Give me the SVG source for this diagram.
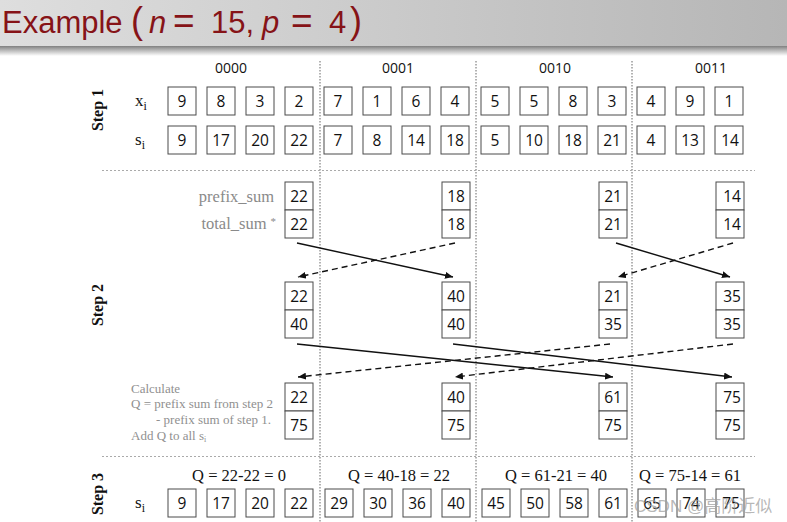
<svg xmlns="http://www.w3.org/2000/svg" width="787" height="522" viewBox="0 0 787 522">
<defs>
<linearGradient id="bar" x1="0" y1="0" x2="1" y2="0">
<stop offset="0" stop-color="#dedede"/>
<stop offset="1" stop-color="#b6b6b6"/>
</linearGradient>
<linearGradient id="shadow" x1="0" y1="0" x2="0" y2="1">
<stop offset="0" stop-color="#808080"/>
<stop offset="0.3" stop-color="#a8a8a8"/>
<stop offset="1" stop-color="#ffffff"/>
</linearGradient>
<marker id="ah" viewBox="0 0 8 7" refX="8" refY="3.5" markerWidth="8" markerHeight="7" markerUnits="userSpaceOnUse" orient="auto">
<path d="M0,0 L8,3.5 L0,7 z" fill="#111"/>
</marker>
</defs>
<style>
.box{fill:#fff;stroke:#4a4a4a;stroke-width:1}
.num{font-family:"Open Sans","Liberation Sans",sans-serif;font-size:15.5px;text-anchor:middle;fill:#111}
.lab{font-family:"Open Sans","Liberation Sans",sans-serif;font-size:14px;text-anchor:middle;fill:#111}
.step{font-family:"Liberation Serif",serif;font-size:16px;font-weight:bold;text-anchor:middle;fill:#111}
.var{font-family:"Liberation Serif",serif;font-size:17px;fill:#111}
.gray{font-family:"Liberation Serif",serif;font-size:16.5px;fill:#8a8a8a;text-anchor:end}
.calc{font-family:"Liberation Serif",serif;font-size:13px;fill:#909090}
.q{font-family:"Liberation Serif",serif;font-size:16.5px;fill:#111;text-anchor:middle}
.div{stroke:#666;stroke-width:1;stroke-dasharray:1.5 1.5;fill:none}
.sep{stroke:#aaa;stroke-width:1;stroke-dasharray:2 2;fill:none}
.sol{stroke:#111;stroke-width:1.4;fill:none}
.dsh{stroke:#111;stroke-width:1.4;fill:none;stroke-dasharray:6 4}
</style>
<rect width="787" height="522" fill="#fff"/>
<g id="titlebar">
<rect x="0" y="0" width="787" height="46" fill="url(#bar)"/>
<rect x="0" y="46" width="787" height="10" fill="url(#shadow)"/>
<text y="33" fill="#861317" font-family="Liberation Sans, sans-serif" font-size="31"><tspan x="2">Example</tspan><tspan x="131" font-size="36">(</tspan><tspan x="149" font-style="italic">n</tspan><tspan x="173" font-size="37">=</tspan><tspan x="211">15,</tspan><tspan x="262" font-style="italic">p</tspan><tspan x="291" font-size="37">=</tspan><tspan x="329">4</tspan><tspan x="350" font-size="36">)</tspan></text>
</g>
<g id="dividers">
<line class="div" x1="320" y1="61" x2="320" y2="522"/>
<line class="div" x1="476" y1="61" x2="476" y2="522"/>
<line class="div" x1="632" y1="61" x2="632" y2="522"/>
<line class="sep" x1="102" y1="170.5" x2="755" y2="170.5"/>
<line class="sep" x1="102" y1="456.5" x2="755" y2="456.5"/>
</g>
<g id="labels">
<text class="lab" x="231" y="73">0000</text>
<text class="lab" x="398" y="73">0001</text>
<text class="lab" x="555" y="73">0010</text>
<text class="lab" x="711" y="73">0011</text>
<text class="step" transform="translate(103,110) rotate(-90)">Step 1</text>
<text class="step" transform="translate(103,305) rotate(-90)">Step 2</text>
<text class="step" transform="translate(103,494) rotate(-90)">Step 3</text>
<text class="var" x="135" y="106">x<tspan font-size="12" dy="4">i</tspan></text>
<text class="var" x="135" y="145">s<tspan font-size="12" dy="4">i</tspan></text>
<text class="var" x="135" y="508">s<tspan font-size="12" dy="4">i</tspan></text>
<text class="gray" x="274" y="202">prefix_sum</text>
<text class="gray" x="276" y="229">total_sum<tspan font-size="11" dx="4" dy="-4">*</tspan></text>
<text class="calc" x="131" y="393">Calculate</text>
<text class="calc" x="131" y="408" textLength="142" lengthAdjust="spacingAndGlyphs">Q = prefix sum from step 2</text>
<text class="calc" x="156" y="424" textLength="115" lengthAdjust="spacingAndGlyphs">- prefix sum of step 1.</text>
<text class="calc" x="131" y="440">Add Q to all s<tspan font-size="8" dy="2">i</tspan></text>
<text class="q" x="239" y="481">Q = 22-22 = 0</text>
<text class="q" x="399" y="481">Q = 40-18 = 22</text>
<text class="q" x="556" y="481">Q = 61-21 = 40</text>
<text class="q" x="690" y="481">Q = 75-14 = 61</text>
</g>
<g id="step1-x">
<g id="x1"><rect class="box" x="168" y="87" width="28" height="28"/><text class="num" x="182" y="107">9</text></g>
<g id="x2"><rect class="box" x="207" y="87" width="28" height="28"/><text class="num" x="221" y="107">8</text></g>
<g id="x3"><rect class="box" x="246" y="87" width="28" height="28"/><text class="num" x="260" y="107">3</text></g>
<g id="x4"><rect class="box" x="285" y="87" width="28" height="28"/><text class="num" x="299" y="107">2</text></g>
<g id="x5"><rect class="box" x="324" y="87" width="28" height="28"/><text class="num" x="338" y="107">7</text></g>
<g id="x6"><rect class="box" x="363" y="87" width="28" height="28"/><text class="num" x="377" y="107">1</text></g>
<g id="x7"><rect class="box" x="402" y="87" width="28" height="28"/><text class="num" x="416" y="107">6</text></g>
<g id="x8"><rect class="box" x="441" y="87" width="28" height="28"/><text class="num" x="455" y="107">4</text></g>
<g id="x9"><rect class="box" x="481" y="87" width="28" height="28"/><text class="num" x="495" y="107">5</text></g>
<g id="x10"><rect class="box" x="520" y="87" width="28" height="28"/><text class="num" x="534" y="107">5</text></g>
<g id="x11"><rect class="box" x="559" y="87" width="28" height="28"/><text class="num" x="573" y="107">8</text></g>
<g id="x12"><rect class="box" x="598" y="87" width="28" height="28"/><text class="num" x="612" y="107">3</text></g>
<g id="x13"><rect class="box" x="637" y="87" width="28" height="28"/><text class="num" x="651" y="107">4</text></g>
<g id="x14"><rect class="box" x="676" y="87" width="28" height="28"/><text class="num" x="690" y="107">9</text></g>
<g id="x15"><rect class="box" x="715" y="87" width="28" height="28"/><text class="num" x="729" y="107">1</text></g>
</g>
<g id="step1-s">
<g id="s1"><rect class="box" x="168" y="126" width="28" height="28"/><text class="num" x="182" y="146">9</text></g>
<g id="s2"><rect class="box" x="207" y="126" width="28" height="28"/><text class="num" x="221" y="146">17</text></g>
<g id="s3"><rect class="box" x="246" y="126" width="28" height="28"/><text class="num" x="260" y="146">20</text></g>
<g id="s4"><rect class="box" x="285" y="126" width="28" height="28"/><text class="num" x="299" y="146">22</text></g>
<g id="s5"><rect class="box" x="324" y="126" width="28" height="28"/><text class="num" x="338" y="146">7</text></g>
<g id="s6"><rect class="box" x="363" y="126" width="28" height="28"/><text class="num" x="377" y="146">8</text></g>
<g id="s7"><rect class="box" x="402" y="126" width="28" height="28"/><text class="num" x="416" y="146">14</text></g>
<g id="s8"><rect class="box" x="441" y="126" width="28" height="28"/><text class="num" x="455" y="146">18</text></g>
<g id="s9"><rect class="box" x="481" y="126" width="28" height="28"/><text class="num" x="495" y="146">5</text></g>
<g id="s10"><rect class="box" x="520" y="126" width="28" height="28"/><text class="num" x="534" y="146">10</text></g>
<g id="s11"><rect class="box" x="559" y="126" width="28" height="28"/><text class="num" x="573" y="146">18</text></g>
<g id="s12"><rect class="box" x="598" y="126" width="28" height="28"/><text class="num" x="612" y="146">21</text></g>
<g id="s13"><rect class="box" x="637" y="126" width="28" height="28"/><text class="num" x="651" y="146">4</text></g>
<g id="s14"><rect class="box" x="676" y="126" width="28" height="28"/><text class="num" x="690" y="146">13</text></g>
<g id="s15"><rect class="box" x="715" y="126" width="28" height="28"/><text class="num" x="730" y="146">14</text></g>
</g>
<g id="step2">
<g id="p1r1"><rect class="box" x="285" y="182" width="28" height="28"/><rect class="box" x="285" y="210" width="28" height="28"/><text class="num" x="299" y="202">22</text><text class="num" x="299" y="230">22</text></g>
<g id="p2r1"><rect class="box" x="442" y="182" width="28" height="28"/><rect class="box" x="442" y="210" width="28" height="28"/><text class="num" x="456" y="202">18</text><text class="num" x="456" y="230">18</text></g>
<g id="p3r1"><rect class="box" x="599" y="182" width="28" height="28"/><rect class="box" x="599" y="210" width="28" height="28"/><text class="num" x="613" y="202">21</text><text class="num" x="613" y="230">21</text></g>
<g id="p4r1"><rect class="box" x="716" y="182" width="28" height="28"/><rect class="box" x="716" y="210" width="28" height="28"/><text class="num" x="732" y="202">14</text><text class="num" x="732" y="230">14</text></g>
<g id="p1r2"><rect class="box" x="285" y="282" width="28" height="28"/><rect class="box" x="285" y="310" width="28" height="28"/><text class="num" x="299" y="302">22</text><text class="num" x="299" y="330">40</text></g>
<g id="p2r2"><rect class="box" x="442" y="282" width="28" height="28"/><rect class="box" x="442" y="310" width="28" height="28"/><text class="num" x="456" y="302">40</text><text class="num" x="456" y="330">40</text></g>
<g id="p3r2"><rect class="box" x="599" y="282" width="28" height="28"/><rect class="box" x="599" y="310" width="28" height="28"/><text class="num" x="613" y="302">21</text><text class="num" x="613" y="330">35</text></g>
<g id="p4r2"><rect class="box" x="716" y="282" width="28" height="28"/><rect class="box" x="716" y="310" width="28" height="28"/><text class="num" x="732" y="302">35</text><text class="num" x="732" y="330">35</text></g>
<g id="p1r3"><rect class="box" x="285" y="383" width="28" height="28"/><rect class="box" x="285" y="411" width="28" height="28"/><text class="num" x="299" y="403">22</text><text class="num" x="299" y="431">75</text></g>
<g id="p2r3"><rect class="box" x="442" y="383" width="28" height="28"/><rect class="box" x="442" y="411" width="28" height="28"/><text class="num" x="456" y="403">40</text><text class="num" x="456" y="431">75</text></g>
<g id="p3r3"><rect class="box" x="599" y="383" width="28" height="28"/><rect class="box" x="599" y="411" width="28" height="28"/><text class="num" x="613" y="403">61</text><text class="num" x="613" y="431">75</text></g>
<g id="p4r3"><rect class="box" x="716" y="383" width="28" height="28"/><rect class="box" x="716" y="411" width="28" height="28"/><text class="num" x="732" y="403">75</text><text class="num" x="732" y="431">75</text></g>
</g>
<g id="step3-s">
<g id="t1"><rect class="box" x="168" y="489" width="28" height="28"/><text class="num" x="182" y="509">9</text></g>
<g id="t2"><rect class="box" x="207" y="489" width="28" height="28"/><text class="num" x="221" y="509">17</text></g>
<g id="t3"><rect class="box" x="246" y="489" width="28" height="28"/><text class="num" x="260" y="509">20</text></g>
<g id="t4"><rect class="box" x="285" y="489" width="28" height="28"/><text class="num" x="299" y="509">22</text></g>
<g id="t5"><rect class="box" x="325" y="489" width="28" height="28"/><text class="num" x="339" y="509">29</text></g>
<g id="t6"><rect class="box" x="364" y="489" width="28" height="28"/><text class="num" x="378" y="509">30</text></g>
<g id="t7"><rect class="box" x="403" y="489" width="28" height="28"/><text class="num" x="417" y="509">36</text></g>
<g id="t8"><rect class="box" x="442" y="489" width="28" height="28"/><text class="num" x="456" y="509">40</text></g>
<g id="t9"><rect class="box" x="482" y="489" width="28" height="28"/><text class="num" x="496" y="509">45</text></g>
<g id="t10"><rect class="box" x="521" y="489" width="28" height="28"/><text class="num" x="535" y="509">50</text></g>
<g id="t11"><rect class="box" x="560" y="489" width="28" height="28"/><text class="num" x="574" y="509">58</text></g>
<g id="t12"><rect class="box" x="599" y="489" width="28" height="28"/><text class="num" x="613" y="509">61</text></g>
<g id="t13"><rect class="box" x="638" y="489" width="28" height="28"/><text class="num" x="652" y="509">65</text></g>
<g id="t14"><rect class="box" x="677" y="489" width="28" height="28"/><text class="num" x="691" y="509">74</text></g>
<g id="t15"><rect class="box" x="716" y="489" width="28" height="28"/><text class="num" x="731" y="509">75</text></g>
</g>
<g id="connectors">
<line class="sol" x1="297" y1="243" x2="453" y2="277" marker-end="url(#ah)"/>
<line class="dsh" x1="455" y1="243" x2="298" y2="277" marker-end="url(#ah)"/>
<line class="sol" x1="616" y1="243" x2="730" y2="277" marker-end="url(#ah)"/>
<line class="dsh" x1="733" y1="243" x2="618" y2="277" marker-end="url(#ah)"/>
<line class="sol" x1="297" y1="344" x2="613" y2="377" marker-end="url(#ah)"/>
<line class="sol" x1="453" y1="344" x2="732" y2="377" marker-end="url(#ah)"/>
<line class="dsh" x1="610" y1="344" x2="298" y2="377" marker-end="url(#ah)"/>
<line class="dsh" x1="733" y1="344" x2="455" y2="377" marker-end="url(#ah)"/>
</g>
<g id="watermark">
<text x="634" y="512" font-family="Liberation Sans, Noto Sans CJK SC, sans-serif" font-size="17" fill="#a0a0a0" fill-opacity="0.75">CSDN @高阶近似</text>
</g>
</svg>
